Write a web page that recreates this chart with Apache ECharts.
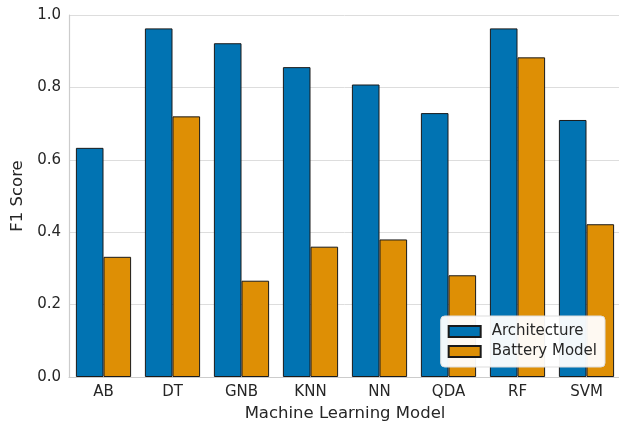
<!DOCTYPE html>
<html>
<head>
<meta charset="utf-8">
<script src="https://cdn.jsdelivr.net/npm/echarts@6/dist/echarts.min.js"></script>
<style>
  html, body { margin: 0; padding: 0; background: #fff; }
  #chart { width: 619px; height: 421px; }
</style>
</head>
<body>
<div id="chart"></div>
<script>
const models = ["AB", "DT", "GNB", "KNN", "NN", "QDA", "RF", "SVM"];
const architecture = [0.633, 0.963, 0.922, 0.856, 0.808, 0.729, 0.963, 0.710];
const batteryModel = [0.332, 0.720, 0.266, 0.360, 0.380, 0.281, 0.883, 0.422];
const yTicks = [0, 0.2, 0.4, 0.6, 0.8, 1.0];

const textColor = "#262626";
const font = "DejaVu Sans";

const chart = echarts.init(document.getElementById("chart"), null, { renderer: "canvas" });

const option = {
  animation: false,
  textStyle: { fontFamily: font, color: textColor },
  grid: { left: 69, right: -2, top: 15, bottom: 44, outerBoundsMode: "none", containLabel: false },
  legend: {
    right: 14,
    bottom: 54,
    orient: "vertical",
    icon: "rect",
    itemWidth: 32,
    itemHeight: 11,
    itemGap: 5,
    padding: [8, 8, 8, 7],
    borderColor: "#dddddd",
    borderWidth: 1,
    borderRadius: 4,
    backgroundColor: "rgba(255,255,255,0.95)",
    textStyle: { fontFamily: font, fontSize: 15, color: textColor, padding: [0, 0, 0, 6] },
    data: ["Architecture", "Battery Model"]
  },
  xAxis: {
    type: "category",
    data: models,
    name: "Machine Learning Model",
    nameLocation: "middle",
    nameGap: 27,
    nameTextStyle: { fontFamily: font, fontSize: 16.5, color: textColor },
    axisLine: { lineStyle: { color: "#cccccc", width: 1.2 } },
    axisTick: { show: false },
    axisLabel: { fontFamily: font, fontSize: 15, color: textColor, margin: 8 }
  },
  yAxis: {
    type: "value",
    min: 0,
    max: 1,
    interval: 0.2,
    name: "F1 Score",
    nameLocation: "middle",
    nameGap: 37,
    nameTextStyle: { fontFamily: font, fontSize: 16.5, color: textColor },
    axisLine: { show: true, lineStyle: { color: "#cccccc", width: 1.2 } },
    axisTick: { show: false },
    axisLabel: {
      fontFamily: font, fontSize: 15, color: textColor, margin: 8,
      formatter: v => (yTicks.includes(v) ? v.toFixed(1) : "")
    },
    splitLine: { lineStyle: { color: "#dddddd", width: 1 } }
  },
  series: [
    {
      name: "Architecture",
      type: "bar",
      data: architecture,
      barGap: "0%",
      barCategoryGap: "20%",
      itemStyle: { color: "#0173b2", borderColor: "#1a1a1a", borderWidth: 1 }
    },
    {
      name: "Battery Model",
      type: "bar",
      data: batteryModel,
      itemStyle: { color: "#de8f05", borderColor: "#1a1a1a", borderWidth: 1 }
    }
  ]
};

chart.setOption(option);
</script>
</body>
</html>
